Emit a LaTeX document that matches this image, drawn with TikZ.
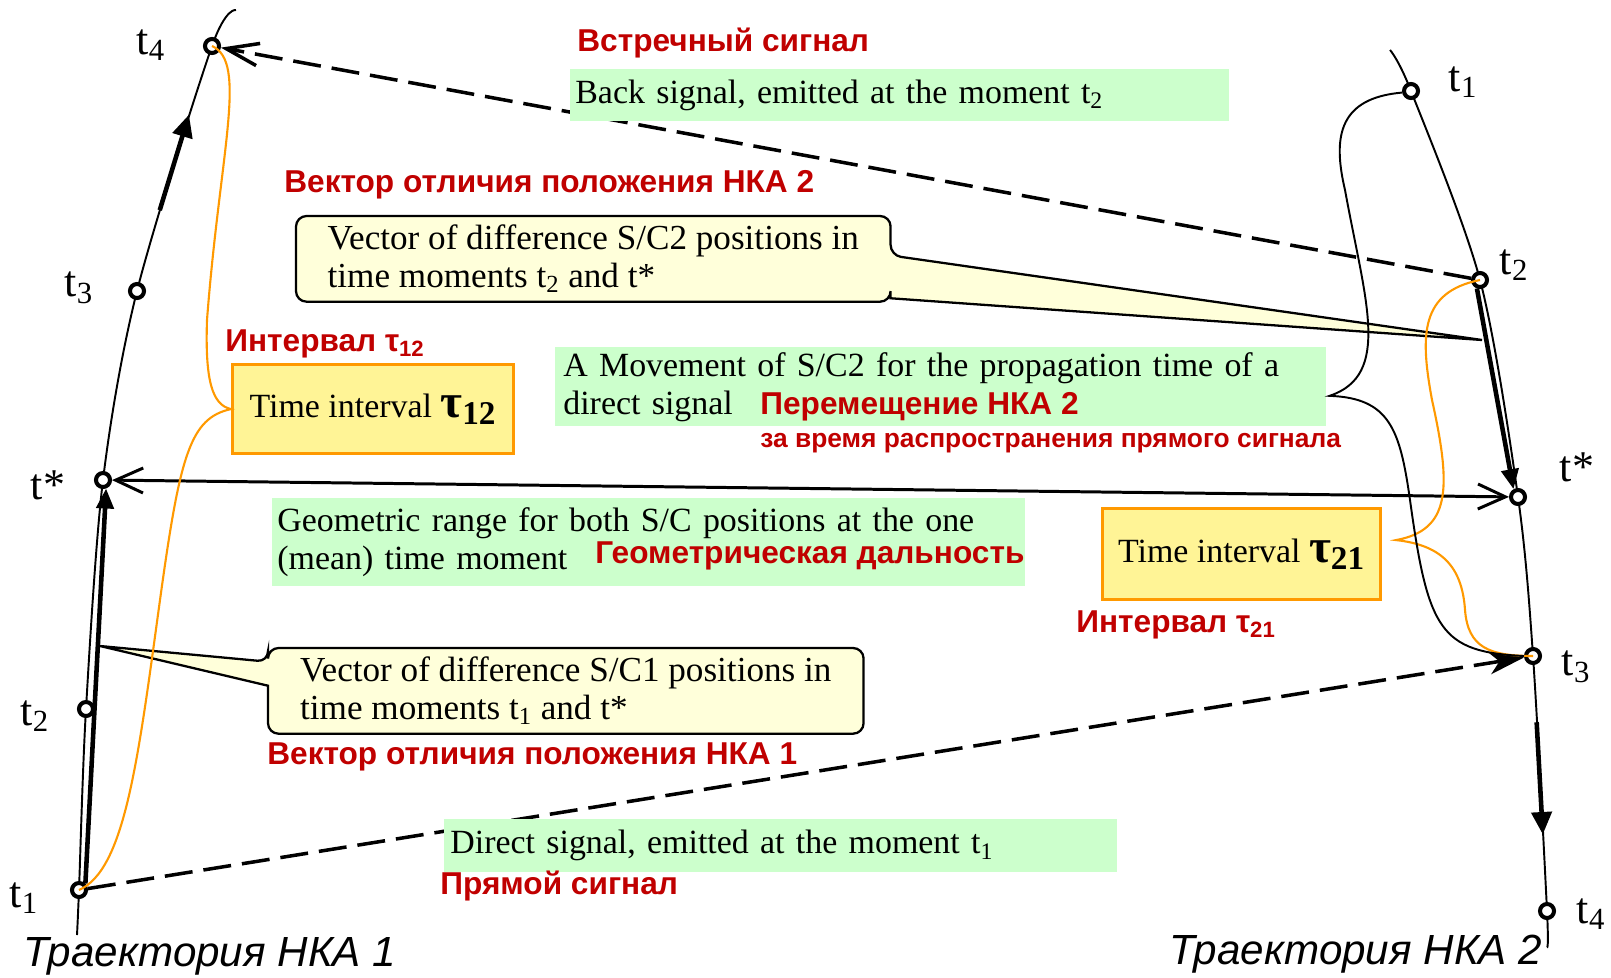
\documentclass[tikz,border=0pt]{standalone}
\usepackage{fontspec}
\setmainfont{Liberation Serif}
\setsansfont{Liberation Sans}
\usepackage{xcolor}
\usetikzlibrary{arrows.meta,calc,backgrounds}

\definecolor{sigred}{RGB}{192,0,0}
\definecolor{boxgreen}{RGB}{204,255,204}
\definecolor{ivalfill}{RGB}{255,244,150}
\definecolor{ivalline}{RGB}{255,153,0}
\definecolor{notefill}{RGB}{255,255,218}

\newcommand{\boxfont}{\fontsize{19.3}{21.6}\selectfont}
\newcommand{\notefont}{\fontsize{20}{21.6}\selectfont}
\newcommand{\redfont}{\sffamily\bfseries\fontsize{18}{20}\selectfont}
\newcommand{\smallredfont}{\sffamily\bfseries\fontsize{15}{17}\selectfont}
\newcommand{\tfont}{\fontsize{25}{27}\selectfont}
\newcommand{\trajfont}{\sffamily\itshape\fontsize{24}{26}\selectfont}
\newcommand{\taufont}{\bfseries\fontsize{27}{27}\selectfont}

\tikzset{
  traj/.style={line width=1.1pt},
  tpoint/.style={circle, draw, line width=2.3pt, fill=white, inner sep=0pt, minimum size=0.28cm},
  tlab/.style={font=\tfont, inner sep=0pt},
  redlab/.style={font=\redfont, text=sigred, anchor=west, inner sep=0pt},
  greenbox/.style={fill=boxgreen, anchor=north west, align=left, font=\boxfont, inner ysep=0pt},
  ivalbox/.style={draw=ivalline, line width=1.8pt, fill=ivalfill, anchor=north west, font=\boxfont, inner sep=0pt},
  notetext/.style={anchor=north west, align=left, font=\notefont, inner sep=0pt},
  notebox/.style={draw, line width=1.3pt, fill=notefill, rounded corners=6pt},
  signal/.style={dash pattern=on 0.56cm off 0.22cm, line width=2pt},
  rangearr/.style={line width=1.7pt, {Straight Barb[length=5.5mm,width=5mm,line width=1.7pt]}-{Straight Barb[length=5.5mm,width=5mm,line width=1.7pt]}},
  vecarr/.style={line width=2.6pt, -{Triangle[length=4mm,width=3.4mm]}},
  dirarr/.style={line width=2.6pt, -{Triangle[length=4.5mm,width=4mm]}},
  brace/.style={line width=1.1pt},
  obrace/.style={draw=ivalline, line width=1.2pt}
}

\begin{document}
\begin{tikzpicture}[x=0.02cm, y=-0.02cm]
\useasboundingbox (0,0) rectangle (1611,977);

% trajectory of S/C 1
\coordinate (pLbot) at (77,935);
\coordinate (pL1) at (79,890);
\coordinate (pL2) at (86,709);
\coordinate (pLs) at (103,480);
\coordinate (pL3) at (137,291);
\coordinate (pL4) at (212,46);
\coordinate (pLtop) at (236,10);
% trajectory of S/C 2
\coordinate (pRtop) at (1390,50);
\coordinate (pR1) at (1411,91);
\coordinate (pR2) at (1480,280);
\coordinate (pRs) at (1518,497);
\coordinate (pR3) at (1533,656);
\coordinate (pR4) at (1547,911);
\coordinate (pRbot) at (1547,947);

\draw[traj] plot[smooth, tension=0.5] coordinates {(pLbot) (pL1) (pL2) (pLs) (pL3) (pL4) (pLtop)};
\draw[traj] plot[smooth, tension=0.5] coordinates {(pRtop) (pR1) (pR2) (pRs) (pR3) (pR4) (pRbot)};

\node[tpoint] (L1) at (pL1) {};
\node[tpoint] (L2) at (pL2) {};
\node[tpoint] (Ls) at (pLs) {};
\node[tpoint] (L3) at (pL3) {};
\node[tpoint] (L4) at (pL4) {};
\node[tpoint] (R1) at (pR1) {};
\node[tpoint] (R2) at (pR2) {};
\node[tpoint] (Rs) at (pRs) {};
\node[tpoint] (R3) at (pR3) {};
\node[tpoint] (R4) at (pR4) {};

% signals, range and vectors
\draw[signal, -{Straight Barb[length=6.5mm,width=4.5mm,line width=2pt]}] (R2) -- (L4);
\draw[signal, -{Stealth[length=7mm,width=4.5mm,inset=2mm]}] (L1) -- (R3);
\draw[rangearr] (Ls) -- (Rs);
\draw[vecarr] (L1.north east) -- (Ls.-70);
\draw[vecarr] (R2.-110) -- (Rs.120);
\draw[dirarr] ($(L3)!0.33!(L4)+(-2,0)$) -- ($(L3)!0.72!(L4)+(-2,0)$);
\draw[dirarr] ($(R3)!0.26!(R4)$) -- ($(R3)!0.70!(R4)$);

% boxes
\node[greenbox, text width=12.98cm, inner xsep=0.1cm, minimum height=1.04cm] (backbox) at (570,69) {Back signal, emitted at the moment t\textsubscript{2}};
\node[greenbox, text width=15.1cm, inner xsep=0.16cm, minimum height=1.58cm] (movebox) at (555,347) {A Movement of S/C2 for the propagation time of a\\direct signal};
\node[greenbox, text width=14.86cm, inner xsep=0.1cm, minimum height=1.76cm] (rangebox) at (272,498) {Geometric range for both S/C positions at the one\\(mean) time moment};
\node[greenbox, text width=13.22cm, inner xsep=0.12cm, minimum height=1.06cm] (directbox) at (444,819) {Direct signal, emitted at the moment t\textsubscript{1}};
\node[ivalbox, minimum width=5.62cm, minimum height=1.78cm] (ival12) at (231,363) {Time interval {\taufont τ\textsubscript{12}}};
\node[ivalbox, minimum width=5.56cm, minimum height=1.82cm] (ival21) at (1101,507) {Time interval {\taufont τ\textsubscript{21}}};

% callouts
\node[notetext, minimum width=11.88cm, minimum height=1.7cm] (note2) at (296,216) {Vector of difference S/C2 positions in\\time moments t\textsubscript{2} and t*};
\node[notetext, minimum width=11.9cm, minimum height=1.7cm] (note1) at (268,648) {Vector of difference S/C1 positions in\\time moments t\textsubscript{1} and t*};
\coordinate (tip2) at (1482,340);
\coordinate (tip1) at (100,646);
\begin{scope}[on background layer]
\draw[notebox] (note2.south west) -- (note2.north west) -- (note2.north east) -- ($(note2.north east)!0.46!(note2.south east)$) [sharp corners] -- (tip2) -- ($(note2.north east)!0.96!(note2.south east)$) [rounded corners=6pt] -- (note2.south east) -- cycle;
\draw[notebox] (note1.north east) -- (note1.north west) -- ($(note1.north west)!0.16!(note1.south west)$) [sharp corners] -- (tip1) -- ($(note1.north west)!0.44!(note1.south west)$) [rounded corners=6pt] -- (note1.south west) -- (note1.south east) -- cycle;
\end{scope}

% braces
\draw[obrace] (L1.center) .. controls (125,870) and (138,760) .. (160,600) .. controls (180,455) and (190,418) .. (ival12.west) .. controls (212,405) and (205,380) .. (207,320) .. controls (220,150) and (248,62) .. (L4.center);
\draw[obrace] (R2.center) .. controls (1420,292) and (1420,335) .. (1432,400) .. controls (1452,490) and (1450,530) .. ($(ival21.east)+(14,-14)$) .. controls (1440,545) and (1462,565) .. (1465,610) .. controls (1468,648) and (1490,656) .. (R3.center);
\draw[brace] (R1.190) .. controls (1340,98) and (1332,135) .. (1345,190) .. controls (1365,300) and (1392,375) .. ($(movebox.east)+(3,9)$) .. controls (1390,398) and (1400,430) .. (1410,500) .. controls (1428,630) and (1440,652) .. (R3.180);

% time labels
\node[tlab] (tL4) at (151,45) {t\textsubscript{4}};
\node[tlab] (tL3) at (79,288) {t\textsubscript{3}};
\node[tlab] (tLs) at (48,485) {t*};
\node[tlab] (tL2) at (35,716) {t\textsubscript{2}};
\node[tlab] (tL1) at (24,898) {t\textsubscript{1}};
\node[tlab] (tR1) at (1463,82) {t\textsubscript{1}};
\node[tlab] (tR2) at (1514,265) {t\textsubscript{2}};
\node[tlab] (tRs) at (1577,467) {t*};
\node[tlab] (tR3) at (1576,667) {t\textsubscript{3}};
\node[tlab] (tR4) at (1591,914) {t\textsubscript{4}};

% russian labels
\node[redlab] (backlab) at (577,43) {Встречный сигнал};
\node[redlab] (note2lab) at (284,185) {Вектор отличия положения НКА 2};
\node[redlab] (ival12lab) at (225,344) {Интервал τ\textsubscript{12}};
\node[redlab] (movelab) at (760,407) {Перемещение НКА 2};
\node[redlab, font=\smallredfont] (movelab2) at (760,443) {за время распространения прямого сигнала};
\node[redlab] (rangelab) at (595,556) {Геометрическая дальность};
\node[redlab] (ival21lab) at (1076,625) {Интервал τ\textsubscript{21}};
\node[redlab] (note1lab) at (267,757) {Вектор отличия положения НКА 1};
\node[redlab] (directlab) at (440,886) {Прямой сигнал};
\node[font=\trajfont, anchor=west, inner sep=0pt] (traj1) at (23,956) {Траектория НКА 1};
\node[font=\trajfont, anchor=west, inner sep=0pt] (traj2) at (1169,954) {Траектория НКА 2};
\end{tikzpicture}
\end{document}
